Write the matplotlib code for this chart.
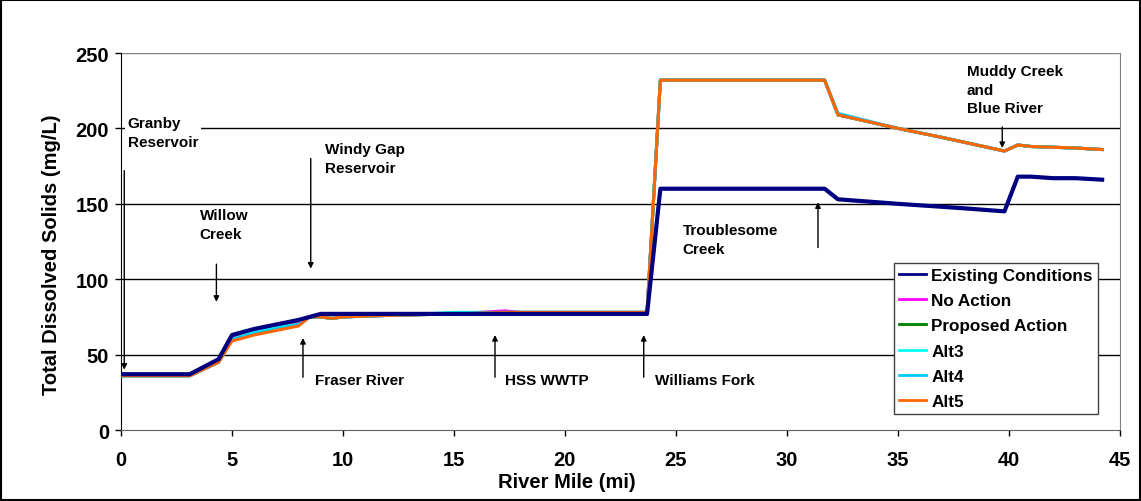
import matplotlib.pyplot as plt
import numpy as np

plt.rcParams['font.family'] = ['Liberation Sans', 'DejaVu Sans']
plt.rcParams['font.weight'] = 'bold'

# River mile and TDS (mg/L)
mile_exist = [0, 3.1, 4.4, 5.0, 6.0, 7.0, 8.0, 8.5, 9.0, 12, 17, 23.7, 24.3, 31.7, 32.3,
              35, 37, 38, 39.8, 40.4, 41, 42, 43, 44.2]
tds_exist = [37, 37, 47, 63, 67, 70, 73, 75, 77, 77, 77, 77, 160, 160, 153,
             150, 148, 147, 145, 168, 168, 167, 167, 166]

mile_alt = [0, 3.1, 4.4, 5.0, 6.0, 7.0, 8.0, 8.5, 9.0, 9.5, 10, 12, 15, 17.3, 18, 23.7, 24.3,
            31.7, 32.3, 35, 37, 39.8, 40.4, 41, 43, 44.2]
tds_noaction = [36, 36, 45, 61, 66, 69, 71, 75, 75, 74, 75, 76, 77, 79, 78, 78, 232,
                232, 209, 200, 194, 185, 189, 188, 187, 186]
tds_proposed = [36, 36, 45, 60, 65, 68, 70, 75, 75, 74, 75, 76, 77, 78, 78, 78, 232,
                232, 209, 200, 194, 185, 189, 188, 187, 186]
tds_alt3 = [36, 36, 45, 60, 65, 68, 70, 75, 75, 74, 75, 76, 78, 78, 78, 78, 232,
            232, 209, 200, 194, 185, 189, 188, 187, 186]
tds_alt4 = [36, 36, 45, 60, 64, 67, 70, 75, 75, 74, 75, 76, 77, 78, 78, 78, 232,
            232, 210, 200, 194, 185, 189, 188, 187, 186]
tds_alt5 = [36, 36, 45, 59, 63, 66, 69, 75, 75, 74, 75, 76, 77, 78, 78, 78, 232,
            232, 209, 200, 194, 185, 189, 188, 187, 186]

fig = plt.figure(figsize=(11.41, 5.02), dpi=100)
ax = fig.add_axes([0.106, 0.1414, 0.8755, 0.751])

for y in [50, 100, 150, 200, 250]:
    ax.axhline(y, color='black' if y < 250 else '#808080', lw=1, zorder=1)

ax.plot(mile_alt, tds_noaction, color='#ff00ff', lw=2.2, label='No Action', zorder=3)
ax.plot(mile_alt, tds_proposed, color='#008000', lw=2.2, label='Proposed Action', zorder=3)
ax.plot(mile_alt, tds_alt3, color='#00ffff', lw=2.2, label='Alt3', zorder=3)
ax.plot(mile_alt, tds_alt4, color='#00ccff', lw=2.2, label='Alt4', zorder=3)
ax.plot(mile_alt, tds_alt5, color='#ff6600', lw=2.2, label='Alt5', zorder=4)
ax.plot(mile_exist, tds_exist, color='#000080', lw=3, label='Existing Conditions', zorder=5)

ax.set_xlim(0, 45)
ax.set_ylim(0, 250)
ax.set_xticks(np.arange(0, 46, 5))
ax.set_yticks(np.arange(0, 251, 50))
ax.tick_params(labelsize=14.5, length=4.5, width=1, color='black')
ax.tick_params(axis='x', pad=10)
ax.tick_params(axis='y', pad=4)
for lab in ax.get_xticklabels() + ax.get_yticklabels():
    lab.set_fontweight('bold')
ax.set_xlabel('River Mile (mi)', fontsize=14.5, fontweight='bold')
ax.set_ylabel('Total Dissolved Solids (mg/L)', fontsize=14.5, fontweight='bold')
ax.xaxis.set_label_coords(0.446, -0.112)
ax.yaxis.set_label_coords(-0.060, 0.467)
ax.spines['left'].set_color('black')
ax.spines['bottom'].set_color('#606060')
ax.spines['top'].set_visible(False)
ax.spines['right'].set_color('#808080')

# annotations: text with white box, arrows
tkw = dict(fontsize=11, fontweight='bold', va='top', ha='left', zorder=6,
           bbox=dict(facecolor='white', edgecolor='none', pad=2), linespacing=1.45)
ax.text(0.3, 208, 'Granby\nReservoir', **tkw)
ax.text(3.55, 147, 'Willow\nCreek', **tkw)
ax.text(9.2, 191, 'Windy Gap\nReservoir', **tkw)
ax.text(8.75, 38, 'Fraser River', **tkw)
ax.text(17.3, 38, 'HSS WWTP', **tkw)
ax.text(24.05, 38, 'Williams Fork', **tkw)
ax.text(25.3, 137, 'Troublesome\nCreek', **tkw)
ax.text(38.1, 243, 'Muddy Creek\nand\nBlue River', **tkw)

akw = dict(arrowstyle='-|>', color='black', lw=1, mutation_scale=8, shrinkA=0, shrinkB=0)
arrows = [((0.15, 172), (0.15, 40)), ((4.3, 110), (4.3, 85)), ((8.55, 180), (8.55, 107)),
          ((8.2, 35), (8.2, 61)), ((16.85, 35), (16.85, 63)), ((23.55, 35), (23.55, 63)),
          ((31.4, 121), (31.4, 151)), ((39.7, 201), (39.7, 187))]
for a, b in arrows:
    ax.annotate('', xy=b, xytext=a, arrowprops=akw, zorder=7)

handles, labels = ax.get_legend_handles_labels()
order = [5, 0, 1, 2, 3, 4]
leg = ax.legend([handles[i] for i in order], [labels[i] for i in order],
                loc='lower right', bbox_to_anchor=(0.978, 0.042), borderaxespad=0,
                prop={'weight': 'bold', 'size': 12.3}, handlelength=1.6, handletextpad=0.3,
                labelspacing=0.6, borderpad=0.3, fancybox=False, framealpha=1,
                edgecolor='#404040')
leg.get_frame().set_linewidth(1)
for line in leg.get_lines():
    line.set_linewidth(2)
leg.set_zorder(8)

fig.patches.append(plt.Rectangle((0.001, 0.002), 0.998, 0.996, transform=fig.transFigure,
                                 fill=False, edgecolor='black', lw=1.5))

fig.savefig('out.png', dpi=100)
